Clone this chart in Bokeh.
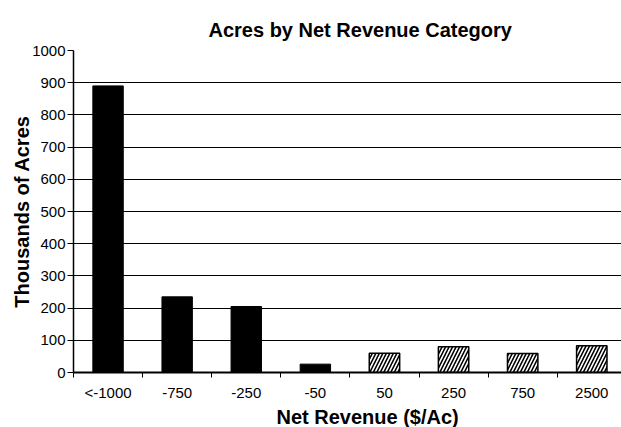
from bokeh.plotting import figure
from bokeh.models import FixedTicker, Range1d, Title, ColumnDataSource
from bokeh.embed import file_html
from bokeh.resources import INLINE

title_text = "Acres by Net Revenue Category"
categories = ["<-1000", "-750", "-250", "-50", "50", "250", "750", "2500"]
acres = [890, 235, 205, 26, 60, 80, 59, 83]
positive = [False, False, False, False, True, True, True, True]
y_ticks = list(range(0, 1001, 100))

FONT = "Liberation Sans"

xs = [i + 1 for i in range(len(categories))]
neg = ColumnDataSource(dict(x=[x for x, p_ in zip(xs, positive) if not p_],
                            top=[a for a, p_ in zip(acres, positive) if not p_]))
pos = ColumnDataSource(dict(x=[x for x, p_ in zip(xs, positive) if p_],
                            top=[a for a, p_ in zip(acres, positive) if p_]))

p = figure(width=621, height=427, output_backend="svg", toolbar_location=None,
           x_range=Range1d(0.5, 8.43), y_range=Range1d(0, 1000),
           min_border_left=73, min_border_right=0, min_border_top=50, min_border_bottom=55)
p.outline_line_color = None
p.background_fill_color = "white"

p.vbar(x="x", top="top", width=0.44, source=neg, fill_color="black", line_color="black")
p.vbar(x="x", top="top", width=0.44, source=pos, fill_color="white", line_color="black",
       line_width=1.5, hatch_pattern="/", hatch_color="black", hatch_scale=7, hatch_weight=1.6)

p.xgrid.visible = False
p.ygrid.grid_line_color = "black"
p.ygrid.grid_line_width = 1

p.xaxis.ticker = FixedTicker(ticks=xs, minor_ticks=[0.5 + i for i in range(9)])
p.xaxis.major_label_overrides = {x: c for x, c in zip(xs, categories)}
p.xaxis.major_tick_out = 0
p.xaxis.major_tick_in = 0
p.xaxis.minor_tick_out = 5
p.xaxis.minor_tick_in = 0
p.xaxis.minor_tick_line_color = "black"
p.xaxis.axis_line_width = 2
p.xaxis.major_label_standoff = 6
p.xaxis.major_label_text_font_size = "15px"
p.xaxis.major_label_text_font = FONT
p.xaxis.major_label_text_color = "black"

p.yaxis.ticker = FixedTicker(ticks=y_ticks, minor_ticks=[])
p.yaxis.major_tick_out = 6
p.yaxis.major_tick_in = 0
p.yaxis.axis_line_width = 1.5
p.yaxis.major_label_standoff = 2
p.yaxis.major_label_text_font_size = "15px"
p.yaxis.major_label_text_font = FONT
p.yaxis.major_label_text_color = "black"

p.add_layout(Title(text=title_text, align="left", offset=135,
                   text_font_size="20px", text_font=FONT, text_font_style="bold",
                   text_color="black", standoff=20), "above")
p.add_layout(Title(text="Net Revenue ($/Ac)", align="left", offset=203,
                   text_font_size="20px", text_font=FONT, text_font_style="bold",
                   text_color="black", standoff=0), "below")
p.add_layout(Title(text="Thousands of Acres", align="center",
                   text_font_size="20px", text_font=FONT, text_font_style="bold",
                   text_color="black", standoff=-7), "left")

open("out.html", "w").write(file_html(p, INLINE))
